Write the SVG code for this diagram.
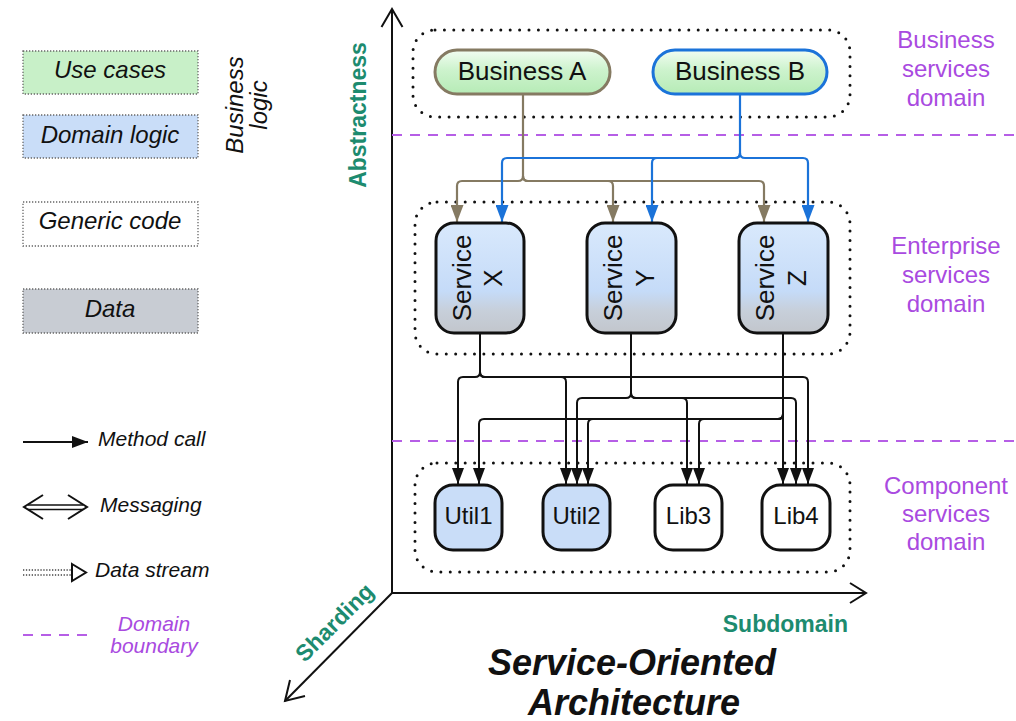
<svg xmlns="http://www.w3.org/2000/svg" width="1016" height="721" viewBox="0 0 1016 721">
  <style>
    text { font-family: "Liberation Sans", Arial, sans-serif; }
    .legend-box { stroke: #666; stroke-width: 1.3; stroke-dasharray: 1.3 1.7; }
    .legend-txt { font-size: 24px; font-style: italic; fill: #111; text-anchor: middle; }
    .legend-key { font-size: 21px; font-style: italic; fill: #111; }
    .purple { fill: #a94ae0; }
    .domain-lbl { font-size: 24px; fill: #a94ae0; text-anchor: middle; }
    .axis-lbl { font-size: 23px; font-weight: bold; fill: #1d8b6f; }
    .boundary { stroke: #b65ee6; stroke-width: 2; stroke-dasharray: 10 8; fill: none; }
    .region { fill: none; stroke: #111; stroke-width: 3; stroke-linecap: round; stroke-dasharray: 0 9.4; }
    .axis { stroke: #111; stroke-width: 2; fill: none; }
    .node-txt { font-size: 26px; fill: #111; text-anchor: middle; }
    .lib-txt { font-size: 24px; fill: #111; text-anchor: middle; }
    .svc { stroke: #111; stroke-width: 3; fill: url(#svcGrad); }
    .lib { stroke: #111; stroke-width: 3; }
    .call { stroke: #111; stroke-width: 2; fill: none; marker-end: url(#arrowBlack); }
    .flowA { stroke: #857a62; stroke-width: 2.2; fill: none; marker-end: url(#arrowBrown); }
    .flowB { stroke: #1b73d9; stroke-width: 2.2; fill: none; marker-end: url(#arrowBlue); }
    .stream { stroke: #444; stroke-width: 1.3; stroke-dasharray: 1.3 1.6; }
    .title { font-size: 36px; font-weight: bold; font-style: italic; fill: #111; text-anchor: middle; }
  </style>
  <defs>
    <linearGradient id="bizGrad" x1="0" y1="0" x2="0" y2="1">
      <stop offset="0" stop-color="#f2fdf2"/>
      <stop offset="0.45" stop-color="#cdf3cd"/>
      <stop offset="1" stop-color="#b6ebb6"/>
    </linearGradient>
    <linearGradient id="svcGrad" x1="0" y1="0" x2="0" y2="1">
      <stop offset="0" stop-color="#d9e9fc"/>
      <stop offset="0.62" stop-color="#c5dbf8"/>
      <stop offset="0.8" stop-color="#c7cfda"/>
      <stop offset="1" stop-color="#c2c6cc"/>
    </linearGradient>
    <marker id="arrowBlack" viewBox="0 0 16 12" refX="16" refY="6" markerWidth="16" markerHeight="12" markerUnits="userSpaceOnUse" orient="auto">
      <path d="M0,0 L16,6 L0,12 z" fill="#111"/>
    </marker>
    <marker id="arrowBrown" viewBox="0 0 17 13" refX="17" refY="6.5" markerWidth="17" markerHeight="13" markerUnits="userSpaceOnUse" orient="auto">
      <path d="M0,0 L17,6.5 L0,13 z" fill="#857a62"/>
    </marker>
    <marker id="arrowBlue" viewBox="0 0 17 13" refX="17" refY="6.5" markerWidth="17" markerHeight="13" markerUnits="userSpaceOnUse" orient="auto">
      <path d="M0,0 L17,6.5 L0,13 z" fill="#1b73d9"/>
    </marker>
  </defs>

  <rect width="1016" height="721" fill="#ffffff"/>

  <!-- Legend: kinds of code -->
  <g id="legend-kinds">
    <rect class="legend-box" x="23" y="51" width="175" height="43" fill="#c8f0c8"/>
    <text class="legend-txt" x="110" y="78">Use cases</text>
    <rect class="legend-box" x="23" y="115" width="175" height="43" fill="#c9ddf8"/>
    <text class="legend-txt" x="110" y="143">Domain logic</text>
    <rect class="legend-box" x="23" y="202" width="175" height="44" fill="#ffffff"/>
    <text class="legend-txt" x="110" y="229">Generic code</text>
    <rect class="legend-box" x="23" y="289" width="175" height="44" fill="#c8ccd3"/>
    <text class="legend-txt" x="110" y="317">Data</text>
    <text class="legend-txt" transform="translate(243,105) rotate(-90)">Business</text>
    <text class="legend-txt" transform="translate(267,105) rotate(-90)">logic</text>
  </g>

  <!-- Legend: kinds of links -->
  <g id="legend-links">
    <line x1="23" y1="442" x2="88" y2="442" class="call"/>
    <text class="legend-key" x="98" y="446">Method call</text>

    <line x1="28" y1="505" x2="83" y2="505" stroke="#111" stroke-width="1.6"/>
    <line x1="28" y1="509.5" x2="83" y2="509.5" stroke="#111" stroke-width="1.6"/>
    <polyline points="43,495 24,507 43,519" fill="none" stroke="#111" stroke-width="2"/>
    <polyline points="68,495 87,507 68,519" fill="none" stroke="#111" stroke-width="2"/>
    <text class="legend-key" x="100" y="512">Messaging</text>

    <line class="stream" x1="23" y1="570" x2="71" y2="570"/>
    <line class="stream" x1="23" y1="575" x2="71" y2="575"/>
    <polygon points="72,564 86,572.5 72,581" fill="#fff" stroke="#111" stroke-width="2"/>
    <text class="legend-key" x="95" y="577">Data stream</text>

    <line x1="23" y1="635" x2="88" y2="635" class="boundary"/>
    <text class="legend-key purple" x="154" y="631" text-anchor="middle">Domain</text>
    <text class="legend-key purple" x="154" y="653" text-anchor="middle">boundary</text>
  </g>

  <!-- Axes -->
  <g id="axes">
    <line class="axis" x1="392" y1="9" x2="392" y2="593"/>
    <polyline class="axis" points="381.5,27 392,9 402.5,27"/>
    <line class="axis" x1="392" y1="593" x2="866" y2="593"/>
    <polyline class="axis" points="850,583 866,593 850,603"/>
    <line class="axis" x1="392" y1="593" x2="285" y2="701"/>
    <polyline class="axis" points="290,680 285,701 305,696"/>
    <text class="axis-lbl" transform="translate(366,115) rotate(-90)" text-anchor="middle">Abstractness</text>
    <text class="axis-lbl" x="848" y="632" text-anchor="end">Subdomain</text>
    <text class="axis-lbl" transform="translate(340,628) rotate(-45)" text-anchor="middle">Sharding</text>
  </g>

  <!-- Domain regions and boundaries -->
  <g id="regions">
    <rect class="region" x="413" y="30" width="437" height="87" rx="22"/>
    <rect class="region" x="415" y="202" width="435" height="152" rx="22"/>
    <rect class="region" x="415" y="463" width="435" height="109" rx="22"/>
    <line class="boundary" x1="392" y1="135" x2="1016" y2="135"/>
    <line class="boundary" x1="392" y1="441" x2="1016" y2="441"/>
    <text class="domain-lbl" x="946" y="48">Business</text>
    <text class="domain-lbl" x="946" y="77">services</text>
    <text class="domain-lbl" x="946" y="106">domain</text>
    <text class="domain-lbl" x="946" y="254">Enterprise</text>
    <text class="domain-lbl" x="946" y="283">services</text>
    <text class="domain-lbl" x="946" y="312">domain</text>
    <text class="domain-lbl" x="946" y="494">Component</text>
    <text class="domain-lbl" x="946" y="522">services</text>
    <text class="domain-lbl" x="946" y="550">domain</text>
  </g>

  <!-- Connectors -->
  <g id="connectors">
    <!-- Business A to services -->
    <path class="flowA" d="M523,94 V176 Q523,181 518,181 H462 Q457,181 457,186 V222"/>
    <path class="flowA" d="M523,176 Q523,181 528,181 H608 Q613,181 613,186 V222"/>
    <path class="flowA" d="M523,176 Q523,181 528,181 H759 Q764,181 764,186 V222"/>
    <!-- Business B to services -->
    <path class="flowB" d="M740,94 V153 Q740,158 735,158 H507 Q502,158 502,163 V222"/>
    <path class="flowB" d="M740,153 Q740,158 735,158 H657 Q652,158 652,163 V222"/>
    <path class="flowB" d="M740,153 Q740,158 745,158 H803 Q808,158 808,163 V222"/>
    <!-- Service X calls -->
    <path class="call" d="M480,333 V372 Q480,377 475,377 H463 Q458,377 458,382 V484"/>
    <path class="call" d="M480,372 Q480,377 485,377 H561 Q566,377 566,382 V484"/>
    <path class="call" d="M480,372 Q480,377 485,377 H803 Q808,377 808,382 V484"/>
    <!-- Service Y calls -->
    <path class="call" d="M631,333 V393 Q631,398 626,398 H582 Q577,398 577,403 V484"/>
    <path class="call" d="M631,393 Q631,398 636,398 H682 Q687,398 687,403 V484"/>
    <path class="call" d="M631,393 Q631,398 636,398 H791 Q796,398 796,403 V484"/>
    <!-- Service Z calls -->
    <path class="call" d="M783,333 V414 Q783,419 778,419 H484 Q479,419 479,424 V484"/>
    <path class="call" d="M783,414 Q783,419 778,419 H593 Q588,419 588,424 V484"/>
    <path class="call" d="M783,414 Q783,419 778,419 H704 Q699,419 699,424 V484"/>
    <path class="call" d="M783,333 V484"/>
  </g>

  <!-- Business services -->
  <g id="business-a">
    <rect x="435" y="50" width="175" height="44" rx="22" fill="url(#bizGrad)" stroke="#857a62" stroke-width="3"/>
    <text class="node-txt" x="522" y="80">Business A</text>
  </g>
  <g id="business-b">
    <rect x="653" y="50" width="174" height="44" rx="22" fill="url(#bizGrad)" stroke="#1b73d9" stroke-width="3"/>
    <text class="node-txt" x="740" y="80">Business B</text>
  </g>

  <!-- Enterprise services -->
  <g id="service-x">
    <rect class="svc" x="436" y="223" width="88" height="110" rx="18"/>
    <text class="node-txt" transform="translate(471,278) rotate(-90)">Service</text>
    <text class="node-txt" transform="translate(502,278) rotate(-90)">X</text>
  </g>
  <g id="service-y">
    <rect class="svc" x="587" y="223" width="89" height="110" rx="18"/>
    <text class="node-txt" transform="translate(622,278) rotate(-90)">Service</text>
    <text class="node-txt" transform="translate(654,278) rotate(-90)">Y</text>
  </g>
  <g id="service-z">
    <rect class="svc" x="739" y="223" width="89" height="110" rx="18"/>
    <text class="node-txt" transform="translate(774,278) rotate(-90)">Service</text>
    <text class="node-txt" transform="translate(806,278) rotate(-90)">Z</text>
  </g>

  <!-- Component services -->
  <g id="util1">
    <rect class="lib" x="435" y="485" width="67" height="65" rx="18" fill="#c9ddf8"/>
    <text class="lib-txt" x="468.5" y="524">Util1</text>
  </g>
  <g id="util2">
    <rect class="lib" x="543" y="485" width="67" height="65" rx="18" fill="#c9ddf8"/>
    <text class="lib-txt" x="576.5" y="524">Util2</text>
  </g>
  <g id="lib3">
    <rect class="lib" x="655" y="485" width="67" height="65" rx="18" fill="#ffffff"/>
    <text class="lib-txt" x="688.5" y="524">Lib3</text>
  </g>
  <g id="lib4">
    <rect class="lib" x="762" y="485" width="68" height="65" rx="18" fill="#ffffff"/>
    <text class="lib-txt" x="796" y="524">Lib4</text>
  </g>

  <!-- Title -->
  <g id="title">
    <text class="title" x="632" y="675">Service-Oriented</text>
    <text class="title" x="634" y="715">Architecture</text>
  </g>
</svg>
